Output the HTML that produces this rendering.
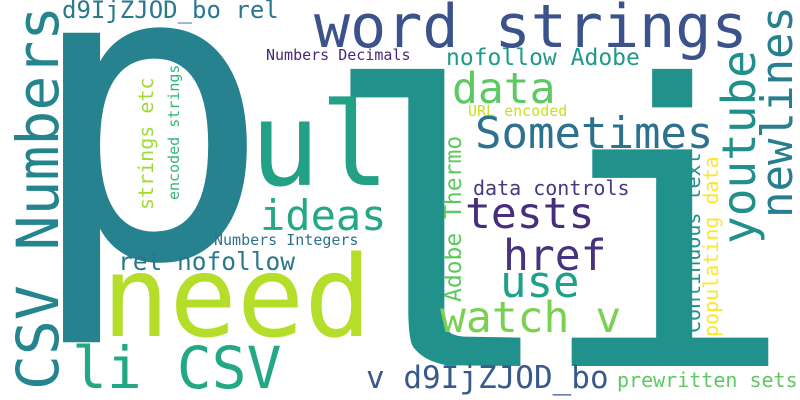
<!DOCTYPE html>
<html><head><meta charset="utf-8"><style>
html,body{margin:0;padding:0;background:#fff;width:800px;height:400px;overflow:hidden;}
svg{display:block;}
text{font-family:"DejaVu Sans Mono","Liberation Mono",monospace;}
</style></head><body>
<svg width="800" height="400" viewBox="0 0 800 400">
<rect width="800" height="400" fill="#fff"/>
<text x="25" y="257" font-size="410" fill="#25828e">p</text>
<text x="297" y="366" font-size="410" fill="#21918c" style="font-family:'Liberation Mono',monospace">li</text>
<text x="102" y="336" font-size="112" fill="#b5de2b">need</text>
<text x="250" y="185" font-size="116" fill="#22a184">ul</text>
<text x="314" y="47" font-size="60" fill="#3b528b">word strings</text>
<text transform="translate(58,390) rotate(-90)" font-size="58" fill="#25858e">CSV Numbers</text>
<text x="62" y="18" font-size="24" fill="#2a788e">d9IjZJOD_bo rel</text>
<text x="266" y="60" font-size="15" fill="#482878">Numbers Decimals</text>
<text x="446" y="65" font-size="23" fill="#1f9a8a">nofollow Adobe</text>
<text x="452" y="103" font-size="43" fill="#5ec962">data</text>
<text x="468" y="116" font-size="15" fill="#c8e020">URL encoded</text>
<text x="475" y="148" font-size="44" fill="#2c728e">Sometimes</text>
<text transform="translate(755,244) rotate(-90)" font-size="46" fill="#21908d">youtube</text>
<text transform="translate(792,218) rotate(-90)" font-size="44" fill="#277f8e">newlines</text>
<text x="465" y="228" font-size="43" fill="#472d7b">tests</text>
<text x="473" y="195" font-size="20" fill="#443983">data controls</text>
<text x="503" y="270" font-size="43" fill="#46327e">href</text>
<text x="500" y="297" font-size="44" fill="#1fa088">use</text>
<text x="440" y="332" font-size="43" fill="#7ad151">watch v</text>
<text transform="translate(461,302) rotate(-90)" font-size="23" fill="#5ec962">Adobe Thermo</text>
<text transform="translate(700,333) rotate(-90)" font-size="20" fill="#21918c">Continuous text</text>
<text transform="translate(718,337) rotate(-90)" font-size="20" fill="#fde725">populating data</text>
<text x="260" y="230" font-size="42" fill="#22a884">ideas</text>
<text x="214" y="245" font-size="15" fill="#2c728e">Numbers Integers</text>
<text x="118" y="270" font-size="24.5" fill="#2a788e">rel nofollow</text>
<text transform="translate(153,210) rotate(-90)" font-size="20" fill="#a0da39">strings etc</text>
<text transform="translate(179,200) rotate(-90)" font-size="15" fill="#35b779">encoded strings</text>
<text x="72" y="388" font-size="58" fill="#22a884">li CSV</text>
<text x="366" y="388" font-size="31" fill="#38598c">v d9IjZJOD_bo</text>
<text x="617" y="387" font-size="20" fill="#5ec962">prewritten sets</text>
</svg>
</body></html>
